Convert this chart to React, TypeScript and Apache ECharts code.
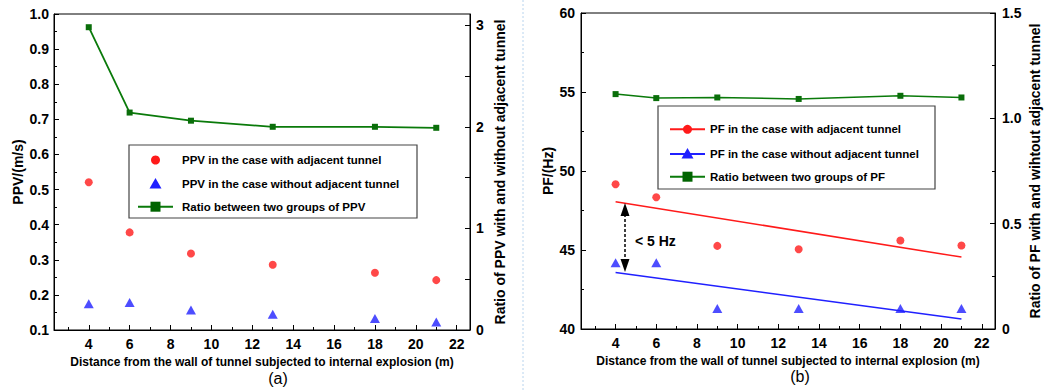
import React, { useEffect, useRef } from "react";
import * as echarts from "echarts";

// ---------- data ----------
const distances = [4, 6, 9, 13, 18, 21];
const ppvWith = [0.521, 0.378, 0.318, 0.286, 0.263, 0.242];
const ppvWithout = [0.175, 0.178, 0.157, 0.145, 0.133, 0.123];
const ppvRatio = [2.98, 2.14, 2.06, 2.0, 2.0, 1.99];
const pfWith = [49.16, 48.34, 45.26, 45.05, 45.6, 45.28];
const pfWithout = [44.2, 44.2, 41.3, 41.3, 41.3, 41.3];
const pfRatio = [1.115, 1.096, 1.099, 1.092, 1.107, 1.099];
const fitX = [4, 21];
const pfWithFit = [48.06, 44.55];
const pfWithoutFit = [43.58, 40.63];
const xTickValues = [4, 6, 8, 10, 12, 14, 16, 18, 20, 22];
const xMinorValues = [3, 5, 7, 9, 11, 13, 15, 17, 19, 21];
const ratioATicks = [0, 0.5, 1, 1.5, 2, 2.5, 3];
const ratioALabels = [0, 1, 2, 3];

const xTitle = "Distance from the wall of tunnel subjected to internal explosion (m)";
const legendA = [
  "PPV in the case with adjacent tunnel",
  "PPV in the case without adjacent tunnel",
  "Ratio between two groups of PPV",
];
const legendB = [
  "PF in the case with adjacent tunnel",
  "PF in the case without adjacent tunnel",
  "Ratio between two groups of PF",
];

const FONT = "'Liberation Sans', Arial, sans-serif";
const RED = "#ff1a1a";
const BLUE = "#2020ff";
const GREEN = "#0a7a0a";

const pairs = (xs: number[], ys: number[]) => xs.map((x, i) => [x, ys[i]]);

const labelStyle = { color: "#000", fontSize: 14, fontWeight: "bold" as const, fontFamily: FONT };
const titleStyle = { color: "#000", fontSize: 12, fontWeight: "bold" as const, fontFamily: FONT };
const vTitleStyle = { color: "#000", fontSize: 14, fontWeight: "bold" as const, fontFamily: FONT };

function mkX(gi: number) {
  return [
    {
      type: "value",
      gridIndex: gi,
      min: 2.3,
      max: 22.65,
      axisLine: { show: true, onZero: false, lineStyle: { color: "#000", width: 1 } },
      axisTick: { show: true, inside: true, length: 5, customValues: xTickValues, lineStyle: { color: "#000" } },
      axisLabel: { ...labelStyle, customValues: xTickValues, margin: 7 },
      splitLine: { show: false },
      name: xTitle,
      nameLocation: "middle",
      nameGap: 24,
      nameTextStyle: titleStyle,
    },
    {
      type: "value",
      gridIndex: gi,
      min: 2.3,
      max: 22.65,
      position: "bottom",
      axisLine: { show: false },
      axisTick: { show: true, inside: true, length: 3, customValues: xMinorValues, lineStyle: { color: "#000" } },
      axisLabel: { show: false },
      splitLine: { show: false },
    },
  ];
}

function legendGraphics(
  x: number, y: number, w: number, h: number,
  rows: number[], lineX0: number, lineX1: number, textX: number,
  names: string[], withLines: boolean
) {
  const cx = (lineX0 + lineX1) / 2;
  const els: any[] = [
    { type: "rect", shape: { x, y, width: w, height: h }, style: { fill: "#fff", stroke: "#444", lineWidth: 1.2 }, z: 100 },
  ];
  const colors = [RED, BLUE, GREEN];
  rows.forEach((ry, i) => {
    if (withLines || i === 2) {
      els.push({ type: "line", shape: { x1: lineX0, y1: ry, x2: lineX1, y2: ry }, style: { stroke: colors[i], lineWidth: 2 }, z: 101 });
    }
    if (i === 0) els.push({ type: "circle", shape: { cx, cy: ry, r: 4.5 }, style: { fill: RED }, z: 102 });
    if (i === 1)
      els.push({ type: "polygon", shape: { points: [[cx, ry - 6], [cx - 6, ry + 4.5], [cx + 6, ry + 4.5]] }, style: { fill: BLUE }, z: 102 });
    if (i === 2) els.push({ type: "rect", shape: { x: cx - 5, y: ry - 5, width: 10, height: 10 }, style: { fill: "#006400" }, z: 102 });
    els.push({
      type: "text", x: textX, y: ry,
      style: { text: names[i], fill: "#000", font: `bold 11.5px ${FONT}`, verticalAlign: "middle", align: "left" },
      z: 102,
    });
  });
  return els;
}

export default function App() {
  const ref = useRef<HTMLDivElement>(null);
  useEffect(() => {
    document.body.style.margin = "0";
    if (!ref.current) return;
    const chart = echarts.init(ref.current, undefined, { renderer: "svg" });
    const option: any = {
      animation: false,
      backgroundColor: "#fff",
      grid: [
        { left: 54, top: 14, width: 416, height: 316, show: true, borderColor: "#000", borderWidth: 1, backgroundColor: "transparent" },
        { left: 581, top: 13, width: 414, height: 316, show: true, borderColor: "#000", borderWidth: 1, backgroundColor: "transparent" },
      ],
      xAxis: [...mkX(0), ...mkX(1)],
      yAxis: [
        {
          type: "value", gridIndex: 0, position: "left", min: 0.1, max: 1.0, interval: 0.1,
          axisLine: { show: true, lineStyle: { color: "#000" } },
          axisTick: { show: true, inside: true, length: 5, lineStyle: { color: "#000" } },
          minorTick: { show: true, splitNumber: 2, length: 3, lineStyle: { color: "#000" } },
          axisLabel: { ...labelStyle, margin: 5, formatter: (v: number) => v.toFixed(1) },
          splitLine: { show: false },
          name: "PPV/(m/s)", nameLocation: "middle", nameGap: 29, nameTextStyle: vTitleStyle,
        },
        {
          type: "value", gridIndex: 0, position: "right", min: 0, max: 3.11,
          axisLine: { show: true, lineStyle: { color: "#000" } },
          axisTick: { show: true, inside: true, length: 5, customValues: ratioATicks, lineStyle: { color: "#000" } },
          axisLabel: { ...labelStyle, margin: 6, customValues: ratioALabels },
          splitLine: { show: false },
          name: "Ratio of PPV with and without adjacent tunnel", nameLocation: "middle", nameGap: 23, nameTextStyle: vTitleStyle,
        },
        {
          type: "value", gridIndex: 1, position: "left", min: 40, max: 60, interval: 5,
          axisLine: { show: true, lineStyle: { color: "#000" } },
          axisTick: { show: true, inside: true, length: 5, lineStyle: { color: "#000" } },
          minorTick: { show: true, splitNumber: 2, length: 3, lineStyle: { color: "#000" } },
          axisLabel: { ...labelStyle, margin: 6 },
          splitLine: { show: false },
          name: "PF/(Hz)", nameLocation: "middle", nameGap: 26, nameTextStyle: vTitleStyle,
        },
        {
          type: "value", gridIndex: 1, position: "right", min: 0, max: 1.5, interval: 0.5,
          axisLine: { show: true, lineStyle: { color: "#000" } },
          axisTick: { show: true, inside: true, length: 5, lineStyle: { color: "#000" } },
          minorTick: { show: true, splitNumber: 2, length: 3, lineStyle: { color: "#000" } },
          axisLabel: { ...labelStyle, margin: 7, formatter: (v: number) => (v === 0 ? "0" : v.toFixed(1)) },
          splitLine: { show: false },
          name: "Ratio of PF with and wihtout adjacent tunnel", nameLocation: "middle", nameGap: 33, nameTextStyle: vTitleStyle,
        },
      ],
      series: [
        {
          name: legendA[0], type: "scatter", xAxisIndex: 0, yAxisIndex: 0,
          data: pairs(distances, ppvWith), symbol: "circle", symbolSize: 8, itemStyle: { color: RED },
        },
        {
          name: legendA[1], type: "scatter", xAxisIndex: 0, yAxisIndex: 0,
          data: pairs(distances, ppvWithout), symbol: "triangle", symbolSize: [10, 9], itemStyle: { color: BLUE },
        },
        {
          name: legendA[2], type: "line", xAxisIndex: 0, yAxisIndex: 1,
          data: pairs(distances, ppvRatio), symbol: "rect", symbolSize: 6,
          lineStyle: { color: GREEN, width: 1.8 }, itemStyle: { color: "#0a6e0a" },
        },
        {
          name: legendB[0] + " fit", type: "line", xAxisIndex: 2, yAxisIndex: 2,
          data: pairs(fitX, pfWithFit), symbol: "none", lineStyle: { color: RED, width: 1.5 },
        },
        {
          name: legendB[1] + " fit", type: "line", xAxisIndex: 2, yAxisIndex: 2,
          data: pairs(fitX, pfWithoutFit), symbol: "none", lineStyle: { color: BLUE, width: 1.5 },
        },
        {
          name: legendB[0], type: "scatter", xAxisIndex: 2, yAxisIndex: 2,
          data: pairs(distances, pfWith), symbol: "circle", symbolSize: 8, itemStyle: { color: RED },
        },
        {
          name: legendB[1], type: "scatter", xAxisIndex: 2, yAxisIndex: 2,
          data: pairs(distances, pfWithout), symbol: "triangle", symbolSize: [10, 9], itemStyle: { color: BLUE },
        },
        {
          name: legendB[2], type: "line", xAxisIndex: 2, yAxisIndex: 3,
          data: pairs(distances, pfRatio), symbol: "rect", symbolSize: 6,
          lineStyle: { color: GREEN, width: 1.5 }, itemStyle: { color: "#0a6e0a" },
        },
      ],
      graphic: [
        { type: "line", shape: { x1: 523, y1: 0, x2: 523, y2: 390 }, style: { stroke: "#b8d4ee", lineWidth: 1, lineDash: [2, 2] } },
        ...legendGraphics(129, 145, 288, 73, [160, 184, 206.7], 138, 173, 182, legendA, false),
        ...legendGraphics(658, 106, 277, 83, [129.3, 154, 176.7], 670, 705, 710, legendB, true),
        { type: "line", shape: { x1: 625, y1: 214, x2: 625, y2: 261 }, style: { stroke: "#000", lineWidth: 1.5, lineDash: [3, 2] }, z: 50 },
        { type: "polygon", shape: { points: [[625, 203], [620.5, 216], [629.5, 216]] }, style: { fill: "#000" }, z: 50 },
        { type: "polygon", shape: { points: [[625, 272], [620.5, 259], [629.5, 259]] }, style: { fill: "#000" }, z: 50 },
        { type: "text", x: 635, y: 241, style: { text: "< 5 Hz", fill: "#000", font: `bold 14px ${FONT}`, verticalAlign: "middle" }, z: 50 },
        { type: "text", x: 278, y: 378, style: { text: "(a)", fill: "#000", font: `16px ${FONT}`, align: "center", verticalAlign: "middle" } },
        { type: "text", x: 800, y: 376, style: { text: "(b)", fill: "#000", font: `16px ${FONT}`, align: "center", verticalAlign: "middle" } },
      ],
    };
    chart.setOption(option);
    return () => chart.dispose();
  }, []);
  return <div ref={ref} style={{ width: 1063, height: 390 }} />;
}
